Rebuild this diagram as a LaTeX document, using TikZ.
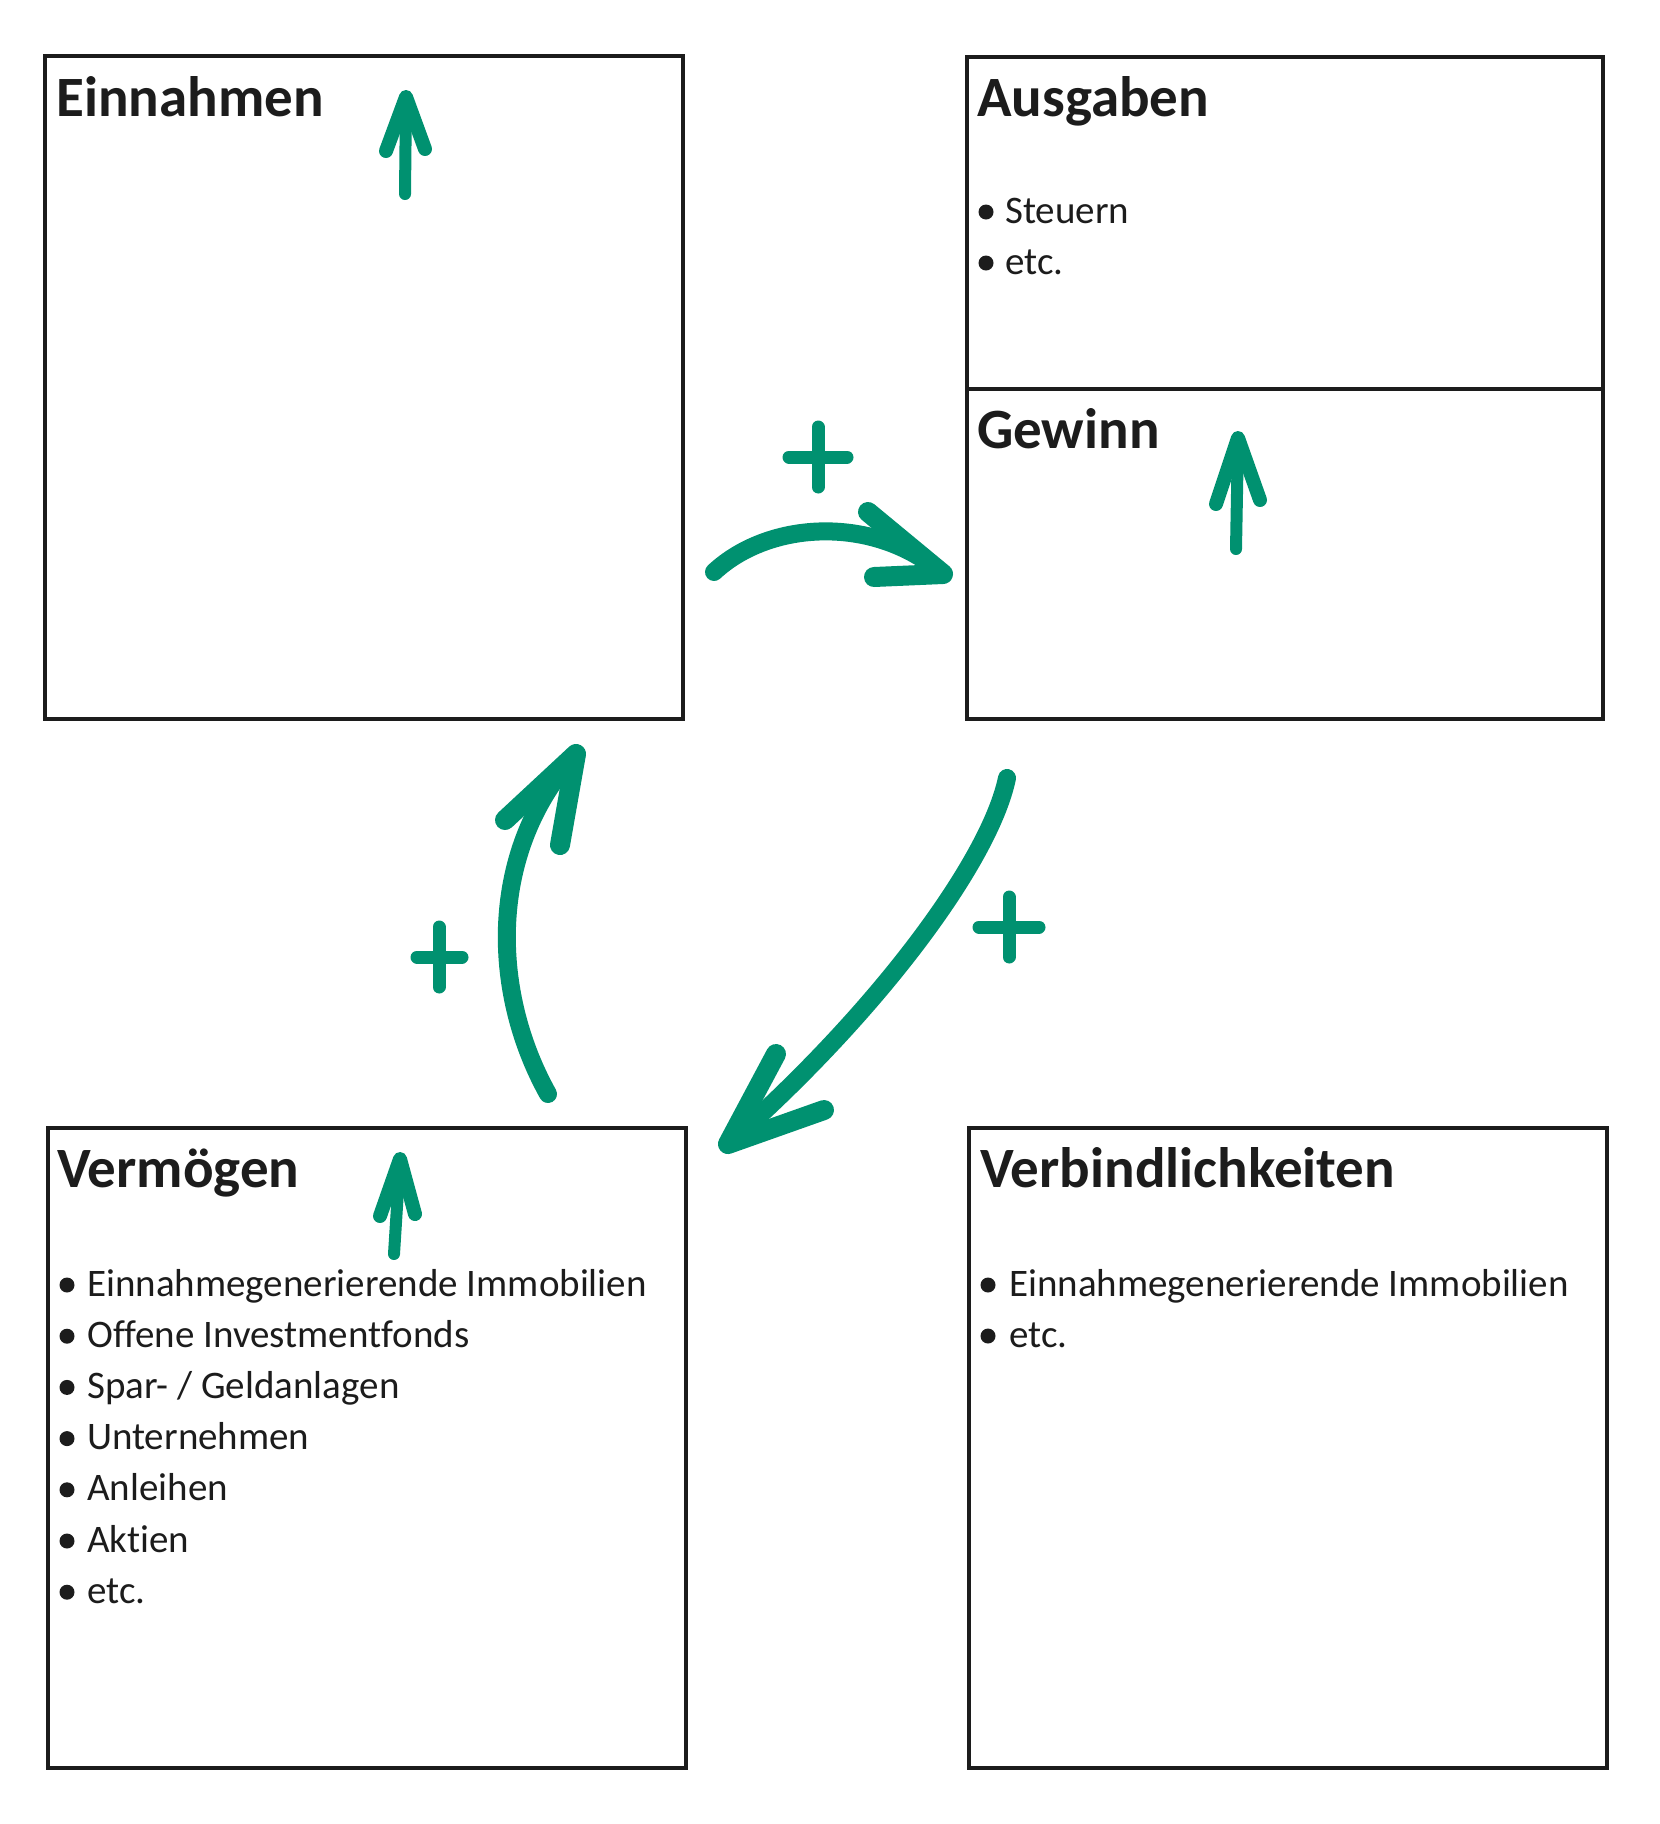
\documentclass[tikz,border=0pt]{standalone}
\usepackage{fontspec}
\setmainfont{Carlito}[Ligatures={NoCommon}]
\definecolor{marker}{RGB}{0,145,112}
\definecolor{ink}{RGB}{28,28,28}
\begin{document}
\begin{tikzpicture}[x=1pt,y=-1pt,
  box/.style={draw=ink, line width=3.5pt, anchor=north west, inner sep=0pt, outer sep=0pt, minimum width=#1},
  title/.style={anchor=base west, inner sep=0pt, font=\fontsize{57}{68}\selectfont\bfseries, text=ink},
  item/.style={anchor=base west, inner sep=0pt, font=\fontsize{39}{47}\selectfont, text=ink},
  bul/.style={circle, fill=ink, minimum size=15pt, inner sep=0pt},
  pen/.style={draw=marker, line width=18pt, line cap=round, line join=round},
  headpen/.style={draw=marker, line width=20pt, line cap=round, line join=round},
  smallpen/.style={draw=marker, line width=12pt, line cap=round, line join=round},
  pluspen/.style={draw=marker, line width=13pt, line cap=round},
]
\useasboundingbox (0,0) rectangle (1660,1824);
\fill[white] (0,0) rectangle (1660,1824);

% boxes
\node[box=638pt, minimum height=663pt] (ein) at (45,56) {};
\node[box=636pt, minimum height=332pt] (aus) at (967,57) {};
\node[box=636pt, minimum height=330pt] (gew) at (967,389) {};
\node[box=638pt, minimum height=640pt] (ver) at (48,1128) {};
\node[box=638pt, minimum height=640pt] (vbl) at (969,1128) {};

% titles
\node[title] (tein) at (56,116) {Einnahmen};
\node[title] (taus) at (977,116) {Ausgaben};
\node[title] (tgew) at (977,448) {Gewinn};
\node[title] (tver) at (57,1187) {Vermögen};
\node[title] (tvbl) at (980,1187) {Verbindlichkeiten};

% Ausgaben items
\node[bul] (ba1) at (986,212) {};
\node[item] (ia1) at (1005,223) {Steuern};
\node[bul] (ba2) at (986,263) {};
\node[item] (ia2) at (1005,274) {etc.};

% Vermoegen items
\foreach \t [count=\i] in {Einnahmegenerierende Immobilien, Offene Investmentfonds, Spar- / Geldanlagen, Unternehmen, Anleihen, Aktien, etc.}{
  \pgfmathsetmacro{\yy}{1296+(\i-1)*51.2}
  \node[bul] (bv\i) at (67,\yy-11) {};
  \node[item] (iv\i) at (87,\yy) {\t};
}

% Verbindlichkeiten items
\node[bul] (bb1) at (988,1285) {};
\node[item] (ib1) at (1009,1296) {Einnahmegenerierende Immobilien};
\node[bul] (bb2) at (988,1336) {};
\node[item] (ib2) at (1009,1347) {etc.};

% small up arrows
\coordinate (e0) at (405,194); \coordinate (e1) at (406,97);
\draw[smallpen] (e0) -- (e1);
\draw[smallpen, line width=14pt] (386,151) -- (e1) -- (425,149);

\coordinate (g0) at (1236,549); \coordinate (g1) at (1238,438);
\draw[smallpen] (g0) -- (g1);
\draw[smallpen, line width=14pt] (1216,504) -- (g1) -- (1260,500);

\coordinate (v0) at (394,1254); \coordinate (v1) at (400,1159);
\draw[smallpen] (v0) -- (v1);
\draw[smallpen, line width=14pt] (380,1216) -- (v1) -- (415,1214);

% curved arrow Einnahmen -> Gewinn
\coordinate (a0) at (714,572); \coordinate (a1) at (943,574);
\draw[pen] (a0) .. controls (770,520) and (875,515) .. (a1);
\draw[headpen] (868,512) -- (a1) -- (874,577);

% curved arrow Vermoegen -> Einnahmen
\coordinate (b0) at (548,1094); \coordinate (b1) at (576,754);
\draw[pen] (b0) .. controls (490,990) and (488,850) .. (b1);
\draw[headpen] (505,820) -- (b1) -- (560,845);

% curved arrow Gewinn -> Vermoegen
\coordinate (c0) at (1007,778); \coordinate (c1) at (728,1144);
\draw[pen] (c0) .. controls (990,860) and (880,1010) .. (c1);
\draw[headpen] (776,1054) -- (c1) -- (824,1110);

% plus signs
\draw[pluspen] (789,457) -- (847,457) (818,427) -- (818,487);
\draw[pluspen] (417,957) -- (462,957) (439,927) -- (439,987);
\draw[pluspen] (979,927) -- (1039,927) (1009,897) -- (1009,957);
\end{tikzpicture}
\end{document}
